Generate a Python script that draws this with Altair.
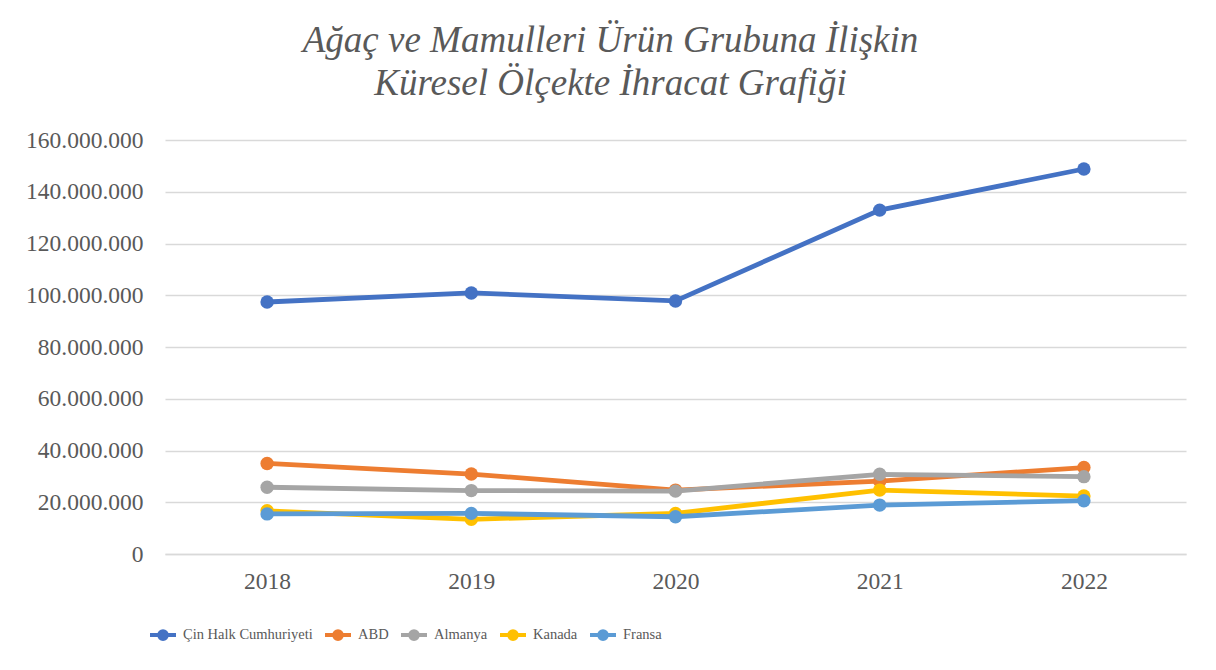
import altair as alt
import pandas as pd

years = ["2018", "2019", "2020", "2021", "2022"]
series = ["Çin Halk Cumhuriyeti", "ABD", "Almanya", "Kanada", "Fransa"]
colors = ["#4472C4", "#ED7D31", "#A5A5A5", "#FFC000", "#5B9BD5"]
cin = [97_400_000, 100_900_000, 97_800_000, 132_900_000, 148_800_000]
abd = [35_000_000, 30_900_000, 24_700_000, 28_200_000, 33_400_000]
almanya = [25_800_000, 24_500_000, 24_300_000, 30_800_000, 29_900_000]
kanada = [16_700_000, 13_400_000, 15_700_000, 24_700_000, 22_400_000]
fransa = [15_500_000, 15_700_000, 14_400_000, 18_900_000, 20_600_000]
y_ticks = [0, 20_000_000, 40_000_000, 60_000_000, 80_000_000,
           100_000_000, 120_000_000, 140_000_000, 160_000_000]

values = [cin, abd, almanya, kanada, fransa]
rows = []
for s, vals in zip(series, values):
    for yr, v in zip(years, vals):
        rows.append({"Yıl": yr, "Ülke": s, "Değer": v})
df = pd.DataFrame(rows)

FONT = "Liberation Serif"
GRAY = "#595959"

color_scale = alt.Scale(domain=series, range=colors)
legend_path = ("M-1,0L1,0M0.3,0A0.3,0.3,0,1,1,-0.3,0A0.3,0.3,0,1,1,0.3,0Z")

x_enc = alt.X("Yıl:O", title=None, sort=years,
              scale=alt.Scale(paddingOuter=0.5, paddingInner=0),
              axis=alt.Axis(labelAngle=0, ticks=False, domain=True,
                            domainColor="#D9D9D9", domainWidth=1.5,
                            labelPadding=15, grid=False))
y_enc = alt.Y("Değer:Q", title=None,
              scale=alt.Scale(domain=[0, 160_000_000], nice=False),
              axis=alt.Axis(values=y_ticks, ticks=False, domain=False,
                            labelPadding=22, gridColor="#D9D9D9", gridWidth=1.5,
                            labelExpr="replace(format(datum.value, ','), /,/g, '.')"))
c_enc = alt.Color("Ülke:N", scale=color_scale, sort=series, title=None,
                  legend=alt.Legend(orient="none", direction="horizontal",
                                    columns=5, legendX=-17, legendY=480,
                                    symbolType=legend_path, symbolSize=676,
                                    symbolStrokeWidth=4, labelOffset=5,
                                    columnPadding=4, padding=0, labelLimit=0))

layers = []
for s in series:
    base = alt.Chart(df).transform_filter(alt.datum["Ülke"] == s)
    layers.append(base.mark_line(strokeWidth=4.8).encode(x=x_enc, y=y_enc, color=c_enc))
    layers.append(base.mark_point(filled=True, size=180, opacity=1).encode(
        x=x_enc, y=y_enc, color=c_enc))

chart = alt.layer(*layers).properties(
    width=1021, height=414,
    autosize=alt.AutoSizeParams(type="none"),
    padding={"left": 157, "top": 132, "right": 22, "bottom": 108},
    title=alt.TitleParams(
        text=["Ağaç ve Mamulleri Ürün Grubuna İlişkin",
              "Küresel Ölçekte İhracat Grafiği"],
        font=FONT, fontSize=37, fontStyle="italic", fontWeight="normal",
        color=GRAY, lineHeight=43, anchor="middle", dx=-65, offset=25),
).configure_axis(
    labelFont=FONT, labelFontSize=23.5, labelColor=GRAY,
).configure_legend(
    labelFont=FONT, labelFontSize=14.5, labelColor=GRAY,
).configure_view(stroke=None)

chart.save("out.html", embed_options={"renderer": "svg", "actions": False})
